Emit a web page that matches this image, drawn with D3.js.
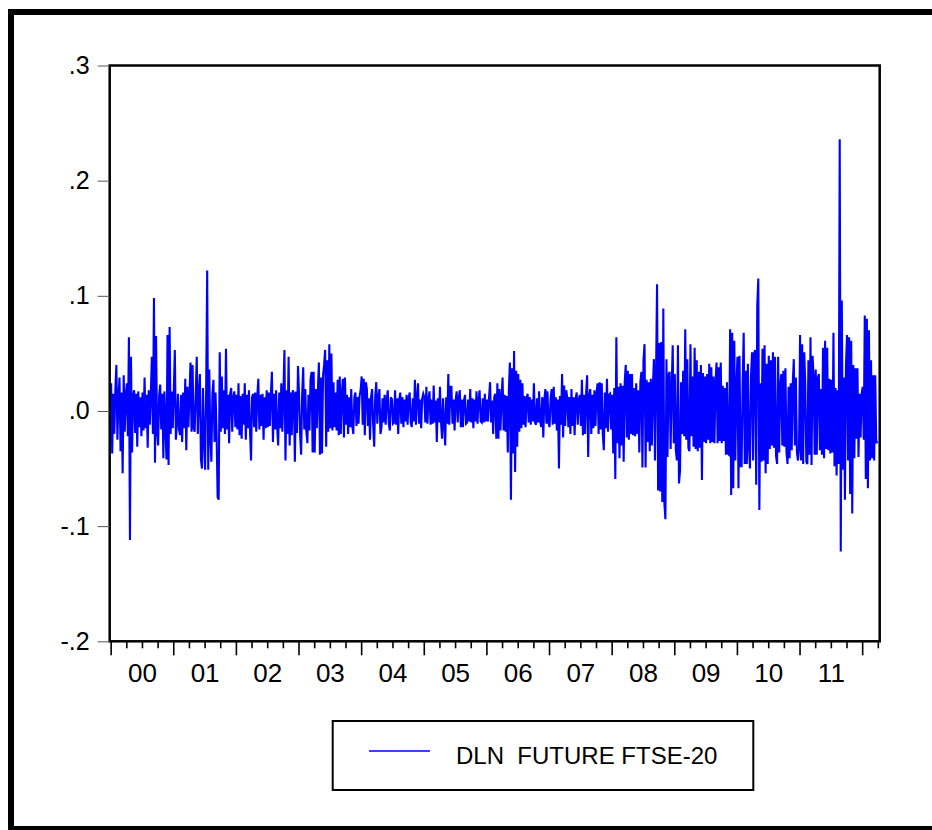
<!DOCTYPE html>
<html>
<head>
<meta charset="utf-8">
<script src="https://cdnjs.cloudflare.com/ajax/libs/d3/7.8.5/d3.min.js"></script>
<style>
  body { margin: 0; background: #fff; }
  svg { display: block; font-family: "Liberation Sans", Arial, sans-serif; }
</style>
</head>
<body>
<svg id="chart" width="932" height="830"></svg>
<script>
// DLN FUTURE FTSE-20, in thousandths (60 readings a year)
const ret2000 = [24,-37,15,-20,18,40,-25,12,29,-35,16,-54,31,-18,14,24,-22,64,-112,47,-36,13,18,-19,15,-31,17,-14,12,-22,16,-17,29,-15,14,-32,18,-12,15,47,-20,98,-45,65,-18,-30,14,23,-16,15,-41,17,-14,-42,66,-47,73,-20,17,-15];
const ret2001 = [18,53,-25,-11,15,-16,-21,14,-27,16,-15,28,-34,21,-14,13,42,-18,40,-15,-18,14,47,-20,16,32,-42,-50,20,-25,-51,18,122,-51,36,-22,-44,15,27,-27,16,-20,-75,-77,51,-18,30,-15,18,-20,54,-16,14,-28,15,20,-18,12,17,-14];
const ret2002 = [14,-16,24,-21,13,-24,15,-12,24,-25,14,-15,18,-17,-43,12,15,-14,16,-18,13,28,-16,14,-13,15,-25,12,-15,18,-14,16,-13,14,34,-27,15,-16,18,-14,-30,16,-15,24,-18,15,53,-43,18,-20,47,-30,16,-21,18,15,-44,17,-19,39];
const ret2003 = [15,-20,-38,15,38,-16,19,-18,-28,14,-17,27,34,-36,34,-36,19,-15,16,42,-38,29,-37,31,40,53,-31,44,-18,58,-15,50,-17,25,-14,16,-17,27,-21,30,-20,15,28,-23,29,-12,14,-20,12,-14,19,-13,-20,12,16,-13,12,-11,13,18];
const ret2004 = [30,-12,28,-21,25,19,-13,11,-25,12,19,-12,-31,13,25,-11,12,19,-20,-14,11,-10,14,-12,10,18,-11,-17,12,10,-11,-10,18,-12,11,-20,10,16,-11,12,-14,10,-9,14,-12,11,16,-10,-14,11,-9,27,-12,12,24,-11,10,-15,11,15];
const ret2005 = [12,-10,21,-11,10,17,-12,10,-11,22,-10,9,-27,11,-10,21,-9,-24,11,-10,-30,12,-11,32,-12,21,21,-11,10,-17,9,17,-10,11,18,-14,10,-14,9,14,-11,-10,10,-9,19,-10,11,-15,10,-9,17,-11,10,18,-9,-10,11,-10,15,-9];
const ret2006 = [10,-9,11,25,-10,9,-20,12,15,-24,24,-24,19,-17,12,29,-17,14,-18,13,-36,18,42,-77,37,-37,52,-53,35,-31,32,-18,27,-15,24,-12,13,-14,11,15,-10,12,-12,10,-9,24,-10,-12,11,-10,17,-9,-14,12,-23,10,19,-11,17,-10];
const ret2007 = [-14,11,19,-12,21,-11,12,-17,10,-50,13,-12,32,-23,22,-13,18,11,-14,12,-20,19,-13,12,-21,11,16,-12,10,14,-13,27,-21,14,-20,15,31,-40,13,19,-20,14,-15,18,-13,15,24,-20,25,-16,24,-20,-34,16,-15,28,-18,14,15,-16];
const ret2008 = [14,-37,20,-59,64,-28,21,-41,24,-30,22,-44,25,40,-23,35,-25,32,-20,32,-21,20,-22,24,-20,18,-36,25,34,-49,44,58,-49,27,-27,25,-35,28,-30,22,45,-43,30,110,-69,59,-70,60,-79,89,-80,-94,45,-40,31,34,-33,20,57,-28];
const ret2009 = [32,-34,-43,57,-63,-52,25,-20,35,-22,71,-25,45,-32,-35,58,-22,30,-31,55,-33,44,-35,34,-32,40,-60,33,-27,30,-28,32,-25,41,-28,38,-27,30,-28,25,42,-28,38,-26,42,-28,22,-26,20,-38,25,-37,-38,71,-73,68,-67,61,-43,20];
const ret2010 = [47,-67,48,-48,-48,25,68,-46,35,-46,41,-30,-50,30,51,-43,50,53,-64,92,115,-86,24,-44,54,-43,57,-54,41,-46,48,-33,44,-30,51,-32,47,-39,-46,47,-36,22,32,-30,35,-31,37,-36,-46,21,-41,24,-34,24,45,-30,29,-36,-43,-33];
const ret2011 = [66,-43,58,-46,51,24,-44,-46,44,-38,64,-47,48,29,-38,36,-38,29,32,-34,19,-38,55,-41,61,-33,55,-34,28,-37,27,-36,68,-48,20,-56,18,-46,236,-122,96,-51,29,-77,40,66,-43,64,-72,61,-89,40,-41,37,-24,37,-40,15,-23,15];
const ret2012 = [21,-25,83,-59,80,-67,70,-43,44,-41,31,-43,31,-28,-26];

const years = [2000, 2001, 2002, 2003, 2004, 2005, 2006, 2007, 2008, 2009, 2010, 2011, 2012];
const yearReturns = [ret2000, ret2001, ret2002, ret2003, ret2004, ret2005, ret2006, ret2007, ret2008, ret2009, ret2010, ret2011, ret2012];
const yearLabels = ["00", "01", "02", "03", "04", "05", "06", "07", "08", "09", "10", "11"];
const yTicks = [-0.2, -0.1, 0, 0.1, 0.2, 0.3];
const seriesName = "DLN  FUTURE FTSE-20";
const readingsPerYear = 60;

// --- layout ---
const plot = {left: 109.7, top: 65.5, right: 879.7, bottom: 641.3};

const svg = d3.select("#chart");

// outer frame (cut by the window on the right and bottom)
svg.append("rect")
    .attr("x", 11).attr("y", 12)
    .attr("width", 940).attr("height", 817)
    .attr("fill", "none")
    .attr("stroke", "#000")
    .attr("stroke-width", 6);

const points = [];
yearReturns.forEach((arr, k) => {
    arr.forEach((v, i) => points.push({t: years[k] + (i + 0.5) / readingsPerYear, v: v / 1000}));
});

const x = d3.scaleLinear()
    .domain([1999.985, 2012.28])
    .range([plot.left, plot.right]);

const y = d3.scaleLinear()
    .domain([-0.2, 0.3])
    .range([plot.bottom, plot.top]);

svg.append("clipPath").attr("id", "clip")
  .append("rect")
    .attr("x", plot.left).attr("y", plot.top)
    .attr("width", plot.right - plot.left)
    .attr("height", plot.bottom - plot.top);

svg.append("path")
    .datum(points)
    .attr("clip-path", "url(#clip)")
    .attr("fill", "none")
    .attr("stroke", "#0000ff")
    .attr("stroke-width", 2.1)
    .attr("stroke-linejoin", "miter")
    .attr("d", d3.line().x(d => x(d.t)).y(d => y(d.v)));

// plot frame
svg.append("rect")
    .attr("x", plot.left).attr("y", plot.top)
    .attr("width", plot.right - plot.left)
    .attr("height", plot.bottom - plot.top)
    .attr("fill", "none")
    .attr("stroke", "#000")
    .attr("stroke-width", 2.5);

// y axis (eviews style: ".3", "-.1")
const fmt = v => d3.format(".1f")(v).replace("\u2212", "-").replace("0.", ".");
const yAxis = svg.append("g")
    .attr("transform", `translate(${plot.left},0)`)
    .call(d3.axisLeft(y).tickValues(yTicks).tickFormat(fmt).tickSize(12).tickPadding(8));
yAxis.select(".domain").remove();
yAxis.selectAll("line").attr("stroke", "#555").attr("stroke-width", 1);
yAxis.selectAll("text")
    .attr("fill", "#000")
    .style("font-size", "25px")
    .style("font-family", "'Liberation Sans', Arial, sans-serif");

// x axis: quarter ticks, year ticks, then labels at mid-year
const quarters = [];
years.forEach(yr => [0.25, 0.5, 0.75].forEach(q => { if (yr + q < 2012.28) quarters.push(yr + q); }));

const xMinor = svg.append("g")
    .attr("transform", `translate(0,${plot.bottom})`)
    .call(d3.axisBottom(x).tickValues(quarters).tickFormat("").tickSize(7));
const xMajor = svg.append("g")
    .attr("transform", `translate(0,${plot.bottom})`)
    .call(d3.axisBottom(x).tickValues(years).tickFormat("").tickSize(14));
[xMinor, xMajor].forEach(g => {
    g.select(".domain").remove();
    g.selectAll("line").attr("stroke", "#000").attr("stroke-width", 1.6);
});

const xLabels = svg.append("g")
    .attr("transform", `translate(0,${plot.bottom})`)
    .call(d3.axisBottom(x)
        .tickValues(yearLabels.map((_, i) => years[i] + 0.5))
        .tickFormat((d, i) => yearLabels[i])
        .tickSize(0).tickPadding(22));
xLabels.select(".domain").remove();
xLabels.selectAll("text")
    .attr("fill", "#000")
    .style("font-size", "26px")
    .style("font-family", "'Liberation Sans', Arial, sans-serif");

// legend
const legend = svg.append("g");
legend.append("rect")
    .attr("x", 332.7).attr("y", 721)
    .attr("width", 420.6).attr("height", 69)
    .attr("fill", "#fff")
    .attr("stroke", "#000")
    .attr("stroke-width", 2);
legend.append("line")
    .attr("x1", 369).attr("x2", 430)
    .attr("y1", 751).attr("y2", 751)
    .attr("stroke", "#0000ff")
    .attr("stroke-width", 1.5);
legend.append("text")
    .attr("x", 456).attr("y", 763.5)
    .style("font-size", "24px")
    .style("white-space", "pre")
    .text(seriesName);
</script>
</body>
</html>
